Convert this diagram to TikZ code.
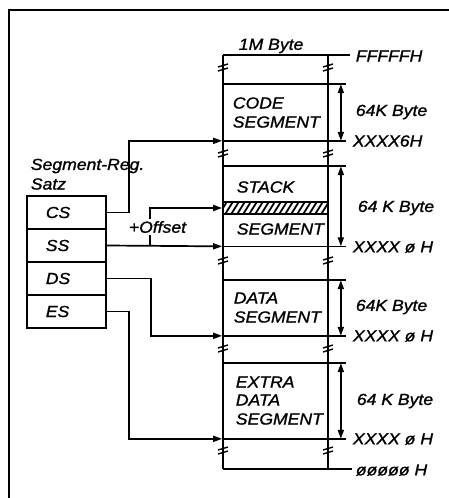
\documentclass[tikz,border=0pt]{standalone}
\usepackage{fontspec}
\setmainfont{Liberation Sans}[FakeStretch=1.1,FakeBold=1.2]
\usetikzlibrary{arrows.meta}
\begin{document}
\begin{tikzpicture}[x=1pt,y=-1pt,line width=1.7pt,
  lbl/.style={font=\fontsize{16}{18}\selectfont\itshape,inner sep=0pt,anchor=west},
  seg/.style={draw=none,minimum width=105pt,inner sep=0pt},
  reg/.style={draw,minimum width=79pt,minimum height=33pt,inner sep=0pt},
  arr/.style={-{Triangle[length=9pt,width=6pt]}},
  dim/.style={{Triangle[length=9pt,width=6pt]}-{Triangle[length=9pt,width=6pt]}},
  brk/.style={line width=1.4pt}]
\useasboundingbox (0,0) rectangle (449,498);
% frame
\draw[line width=2pt] (9,498) -- (9,10) -- (449,10);
% memory column verticals
\draw (223,55) -- (223,469);
\draw (328,55) -- (328,469);
\draw (223,55) -- (350,55);
\draw (223,469) -- (352,469);
% break marks
\foreach \yy in {67,153,260,348,450}{
  \foreach \xx in {223,328}{
    \draw[brk] (\xx-5,\yy) -- (\xx+5,\yy-3);
    \draw[brk] (\xx-5,\yy+4) -- (\xx+5,\yy+1);
  }
}
% segments
\node[seg,minimum height=55pt] (code) at (275.5,112.5) {};
\node[seg,minimum height=78.5pt] (stack) at (275.5,206.25) {};
\node[seg,minimum height=54pt] (data) at (275.5,308) {};
\node[seg,minimum height=74pt] (extra) at (275.5,401) {};
\foreach \s in {code,stack,data,extra}{
  \draw (\s.north west) -- ([xshift=17pt]\s.north east);
  \draw (\s.south west) -- ([xshift=17pt]\s.south east);
  \draw[dim] ([xshift=12pt]\s.north east) -- ([xshift=12pt]\s.south east);
}
% hatched band
\node[seg,minimum height=10pt] (hatch) at (275.5,208) {};
\begin{scope}
  \clip (hatch.south west) rectangle (hatch.north east);
  \foreach \k in {0,6,...,120}{
    \draw[line width=1.8pt] (218+\k,216) -- (228+\k,200);
  }
\end{scope}
\draw (hatch.north west) -- (hatch.north east);
\draw (hatch.south west) -- (hatch.south east);
% segment texts
\node[lbl] (t1) at (232,103) {CODE};
\node[lbl] (t2) at (232,122) {SEGMENT};
\node[lbl] (t3) at (236,187) {STACK};
\node[lbl] (t4) at (236,229) {SEGMENT};
\node[lbl] (t5) at (233,298) {DATA};
\node[lbl] (t6) at (233,317) {SEGMENT};
\node[lbl] (t7) at (235,382) {EXTRA};
\node[lbl] (t8) at (235,400) {DATA};
\node[lbl] (t9) at (235,419) {SEGMENT};
% right labels
\node[lbl] (l0) at (238,46) {1M Byte};
\node[lbl] (l1) at (355,56) {FFFFFH};
\node[lbl] (l2) at (355,112) {64K Byte};
\node[lbl] (l3) at (352,141) {XXXX6H};
\node[lbl] (l4) at (357,208) {64 K Byte};
\node[lbl] (l5) at (352,247) {XXXX ø H};
\node[lbl] (l6) at (355,307) {64K Byte};
\node[lbl] (l7) at (352,336) {XXXX ø H};
\node[lbl] (l8) at (356,401) {64 K Byte};
\node[lbl] (l9) at (352,439) {XXXX ø H};
\node[lbl] (l10) at (355,470) {øøøøø H};
% registers
\node[lbl] (srh) at (30,166) {Segment-Reg.};
\node[lbl] (srs) at (30,184) {Satz};
\node[reg] (cs) at (66.5,212.5) {};
\node[reg] (ss) at (66.5,245.5) {};
\node[reg] (ds) at (66.5,278.5) {};
\node[reg] (es) at (66.5,311.5) {};
\node[lbl] (csl) at (45,212.5) {CS};
\node[lbl] (ssl) at (45,245.5) {SS};
\node[lbl] (dsl) at (45,278.5) {DS};
\node[lbl] (esl) at (45,311.5) {ES};
% connectors
\draw[arr] (cs.east) -- ++(22,0) |- (code.south west);
\draw[arr] (ss.east) -- (stack.south west);
\coordinate (ofs) at (150,245.5);
\draw[arr] (ofs) |- (hatch.west);
\draw[arr] (ds.east) -- ++(44,0) |- (data.south west);
\draw[arr] (es.east) -- ++(22,0) |- (extra.south west);
\node[lbl,fill=white,inner xsep=1pt,inner ysep=2pt] (ofl) at (127,227) {+Offset};
\end{tikzpicture}
\end{document}
